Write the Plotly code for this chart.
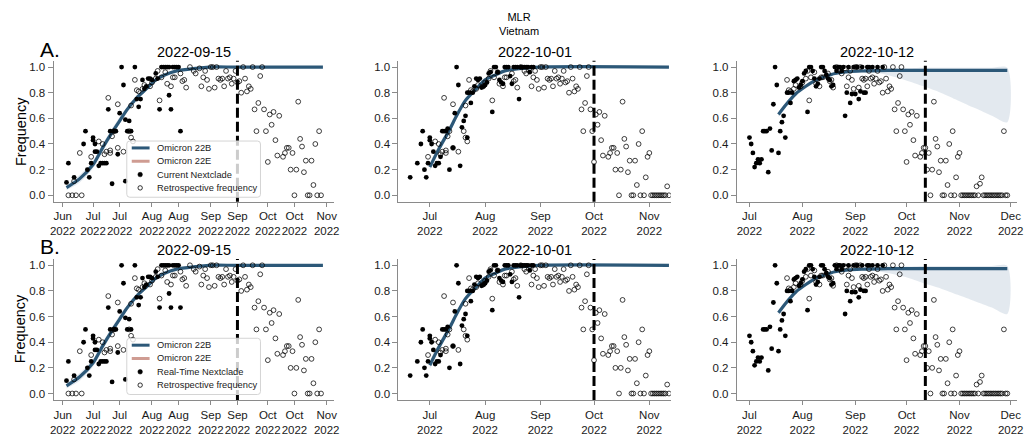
import plotly.graph_objects as go

FONT = "Liberation Sans, Arial, Helvetica, sans-serif"
W, H = 1029, 436
BLUE = "#2C5878"
PINK = "#CF9C92"
BAND = "rgba(60,100,140,0.14)"
AXC = "#8a8a8a"
TXT = "#1a1a1a"

# ---------------- data ----------------
analysis_dates = ["2022-09-15", "2022-10-01", "2022-10-12"]
panel_titles = ["2022-09-15", "2022-10-01", "2022-10-12"]
row_letters = ["A.", "B."]
nextclade_labels = ["Current Nextclade", "Real-Time Nextclade"]
variant_names = ["Omicron 22B", "Omicron 22E"]

# retrospective frequency (same observations, shown over each panel's window)
retro_dates = [
    "2022-06-18", "2022-06-20", "2022-06-21", "2022-06-22", "2022-06-24", "2022-06-25", "2022-06-30",
    "2022-07-04", "2022-07-06", "2022-07-07", "2022-07-08", "2022-07-09", "2022-07-10", "2022-07-10",
    "2022-07-11", "2022-07-12", "2022-07-14", "2022-07-14", "2022-07-17", "2022-07-20", "2022-07-21",
    "2022-07-21", "2022-07-22", "2022-07-23", "2022-07-24", "2022-07-25", "2022-07-27", "2022-07-28",
    "2022-07-31", "2022-08-01", "2022-08-03", "2022-08-04", "2022-08-05", "2022-08-06", "2022-08-08",
    "2022-08-09", "2022-08-11", "2022-08-12", "2022-08-13", "2022-08-16", "2022-08-17", "2022-08-18",
    "2022-08-19", "2022-08-21", "2022-08-23", "2022-08-24", "2022-08-26", "2022-08-27", "2022-08-28",
    "2022-08-29", "2022-08-30", "2022-08-31", "2022-09-01", "2022-09-02", "2022-09-03", "2022-09-04",
    "2022-09-05", "2022-09-06", "2022-09-07", "2022-09-08", "2022-09-09", "2022-09-10", "2022-09-11",
    "2022-09-12", "2022-09-13", "2022-09-14", "2022-09-15", "2022-09-16", "2022-09-17", "2022-09-18",
    "2022-09-19", "2022-09-20", "2022-09-21", "2022-09-22", "2022-09-23", "2022-09-24", "2022-09-25",
    "2022-09-26", "2022-09-27", "2022-09-28", "2022-09-29", "2022-09-30", "2022-10-01", "2022-10-02",
    "2022-10-03", "2022-10-04", "2022-10-05", "2022-10-06", "2022-10-07", "2022-10-09", "2022-10-10",
    "2022-10-11", "2022-10-12", "2022-10-13", "2022-10-14", "2022-10-15", "2022-10-16", "2022-10-17",
    "2022-10-18", "2022-10-19", "2022-10-20", "2022-10-21", "2022-10-22", "2022-10-23", "2022-10-24",
    "2022-10-25", "2022-10-26", "2022-10-27", "2022-10-28", "2022-10-29", "2022-10-30", "2022-10-31",
    "2022-11-01", "2022-11-02", "2022-11-03", "2022-11-04", "2022-11-05", "2022-11-06", "2022-11-07",
    "2022-11-08", "2022-11-09", "2022-11-10", "2022-11-11", "2022-11-12", "2022-11-13", "2022-11-14",
    "2022-11-15", "2022-11-16", "2022-11-17", "2022-11-18", "2022-11-19", "2022-11-20", "2022-11-21",
    "2022-11-22", "2022-11-23", "2022-11-24", "2022-11-25", "2022-11-26", "2022-11-27", "2022-11-28",
    "2022-11-29",
]
retro_vals = [
    0.00, 0.00, 0.11, 0.00, 0.33, 0.00, 0.30,
    0.42, 0.40, 0.32, 0.34, 0.76, 0.33, 0.35,
    0.46, 0.50, 0.71, 0.37, 0.34, 0.50, 0.70,
    0.45, 0.42, 0.90, 0.82, 0.81, 0.83, 0.86,
    0.85, 0.88, 0.91, 0.97, 0.74, 0.92, 0.96,
    0.87, 0.85, 0.92, 0.92, 0.95, 0.89, 0.90,
    0.84, 1.00, 0.97, 0.95, 0.99, 0.85, 0.92,
    0.97, 0.90, 0.83, 1.00, 1.00, 0.84, 1.00,
    0.91, 0.90, 0.91, 0.85, 0.97, 0.91, 0.92,
    0.87, 0.91, 0.97, 0.88, 0.89, 0.80, 1.00,
    0.91, 0.81, 0.85, 0.83, 1.00, 0.67, 0.50,
    0.72, 0.93, 1.00, 0.67, 0.50, 0.26, 0.63,
    0.55, 0.65, 0.43, 0.31, 0.62, 0.30, 0.33,
    0.37, 0.37, 0.20, 0.33, 0.00, 0.20, 0.73,
    0.44, 0.38, 0.18, 0.27, 0.00, 0.00, 0.27,
    0.08, 0.40, 0.00, 0.50, 0.00, 0.14, 0.30,
    0.33, 0.00, 0.00, 0.00, 0.00, 0.00, 0.00,
    0.00, 0.00, 0.00, 0.07, 0.00, 0.09, 0.14,
    0.00, 0.00, 0.00, 0.00, 0.00, 0.00, 0.00,
    0.00, 0.00, 0.00, 0.00, 0.00, 0.50, 0.00,
    0.00,
]
retro_windows = [("2022-06-18", "2022-10-29"), ("2022-06-30", "2022-11-12"), ("2022-07-23", "2022-11-29")]

# Nextclade frequencies available at each analysis date
nc_0915_dates = [
    "2022-06-17", "2022-06-18", "2022-06-21", "2022-06-26", "2022-06-27", "2022-06-28", "2022-06-29",
    "2022-06-30", "2022-07-01", "2022-07-01", "2022-07-02", "2022-07-02", "2022-07-03", "2022-07-04",
    "2022-07-05", "2022-07-06", "2022-07-07", "2022-07-08", "2022-07-09", "2022-07-10", "2022-07-11",
    "2022-07-12", "2022-07-13", "2022-07-14", "2022-07-15", "2022-07-16", "2022-07-17", "2022-07-18",
    "2022-07-18", "2022-07-19", "2022-07-20", "2022-07-21", "2022-07-23", "2022-07-24", "2022-07-25",
    "2022-07-26", "2022-07-27", "2022-07-28", "2022-07-29", "2022-07-30", "2022-07-31", "2022-08-01",
    "2022-08-03", "2022-08-04", "2022-08-05", "2022-08-06", "2022-08-07", "2022-08-08", "2022-08-09",
    "2022-08-10", "2022-08-10", "2022-08-11", "2022-08-12", "2022-08-13", "2022-08-14", "2022-08-15",
    "2022-08-16",
]
nc_0915_vals = [
    0.10, 0.25, 0.14, 0.40, 0.50, 0.20, 0.14,
    0.25, 0.45, 0.43, 0.40, 0.34, 0.34, 0.23,
    0.25, 0.25, 0.25, 0.25, 0.67, 0.50, 0.09,
    0.50, 0.50, 0.32, 0.64, 1.00, 0.86, 0.11,
    0.59, 0.50, 0.58, 0.50, 1.00, 0.75, 0.69,
    0.75, 0.90, 0.83, 0.85, 0.91, 0.91, 0.90,
    0.95, 0.91, 0.67, 1.00, 1.00, 1.00, 1.00,
    0.78, 1.00, 0.67, 1.00, 1.00, 1.00, 1.00,
    0.50,
]
realtime_0915_changes = {"2022-08-16": 0.67}

nc_1001_dates = [
    "2022-06-20", "2022-06-24", "2022-06-26", "2022-06-27", "2022-06-28", "2022-06-29", "2022-06-30",
    "2022-07-01", "2022-07-01", "2022-07-02", "2022-07-03", "2022-07-04", "2022-07-05", "2022-07-06",
    "2022-07-07", "2022-07-08", "2022-07-09", "2022-07-10", "2022-07-11", "2022-07-12", "2022-07-14",
    "2022-07-15", "2022-07-16", "2022-07-17", "2022-07-18", "2022-07-19", "2022-07-20", "2022-07-21",
    "2022-07-22", "2022-07-22", "2022-07-23", "2022-07-24", "2022-07-25", "2022-07-26", "2022-07-27",
    "2022-07-28", "2022-07-29", "2022-07-30", "2022-07-31", "2022-08-01", "2022-08-02", "2022-08-03",
    "2022-08-04", "2022-08-05", "2022-08-06", "2022-08-07", "2022-08-08", "2022-08-09", "2022-08-10",
    "2022-08-11", "2022-08-12", "2022-08-13", "2022-08-14", "2022-08-15", "2022-08-16", "2022-08-17",
    "2022-08-18", "2022-08-19", "2022-08-20", "2022-08-21", "2022-08-22", "2022-08-23", "2022-08-24",
    "2022-08-25", "2022-08-26", "2022-08-27", "2022-08-28",
]
nc_1001_vals = [
    0.14, 0.25, 0.40, 0.50, 0.20, 0.14, 0.25,
    0.45, 0.43, 0.40, 0.34, 0.23, 0.25, 0.25,
    0.30, 0.50, 0.50, 0.50, 0.52, 0.20, 0.37,
    0.64, 1.00, 0.86, 0.23, 0.53, 0.58, 0.62,
    0.45, 0.80, 0.80, 0.72, 0.80, 0.85, 0.91,
    0.90, 0.91, 0.84, 0.85, 0.86, 0.88, 0.95,
    0.96, 0.65, 1.00, 1.00, 0.96, 0.90, 0.88,
    0.87, 1.00, 1.00, 1.00, 0.93, 0.87, 1.00,
    1.00, 1.00, 0.75, 1.00, 1.00, 1.00, 1.00,
    1.00, 0.96, 1.00, 1.00,
]

nc_1012_dates = [
    "2022-07-01", "2022-07-02", "2022-07-03", "2022-07-04", "2022-07-05", "2022-07-06", "2022-07-07",
    "2022-07-08", "2022-07-09", "2022-07-10", "2022-07-11", "2022-07-12", "2022-07-13", "2022-07-14",
    "2022-07-15", "2022-07-16", "2022-07-17", "2022-07-18", "2022-07-19", "2022-07-20", "2022-07-21",
    "2022-07-22", "2022-07-23", "2022-07-24", "2022-07-25", "2022-07-26", "2022-07-27", "2022-07-28",
    "2022-07-29", "2022-07-30", "2022-07-31", "2022-08-01", "2022-08-02", "2022-08-03", "2022-08-04",
    "2022-08-05", "2022-08-06", "2022-08-07", "2022-08-08", "2022-08-09", "2022-08-10", "2022-08-11",
    "2022-08-12", "2022-08-13", "2022-08-14", "2022-08-15", "2022-08-16", "2022-08-17", "2022-08-18",
    "2022-08-19", "2022-08-20", "2022-08-21", "2022-08-22", "2022-08-23", "2022-08-24", "2022-08-25",
    "2022-08-26", "2022-08-27", "2022-08-28", "2022-08-29", "2022-08-30", "2022-08-31", "2022-09-01",
    "2022-09-02", "2022-09-03", "2022-09-04", "2022-09-05", "2022-09-06", "2022-09-07", "2022-09-08",
    "2022-09-09", "2022-09-11", "2022-09-14", "2022-09-17",
]
nc_1012_vals = [
    0.45, 0.40, 0.33, 0.22, 0.25, 0.28, 0.25,
    0.28, 0.50, 0.50, 0.50, 0.18, 0.52, 0.35,
    0.71, 1.00, 0.86, 0.33, 0.50, 0.57, 0.62,
    0.45, 0.80, 0.80, 0.72, 0.80, 0.89, 0.90,
    0.91, 0.84, 0.86, 0.89, 0.95, 0.97, 0.65,
    1.00, 1.00, 0.97, 0.91, 0.85, 0.87, 0.91,
    1.00, 1.00, 0.97, 0.94, 0.91, 0.90, 0.85,
    0.86, 1.00, 0.97, 1.00, 1.00, 0.97, 1.00,
    0.62, 0.80, 1.00, 0.72, 0.79, 1.00, 0.79,
    1.00, 0.75, 0.81, 1.00, 0.80, 0.80, 1.00,
    1.00, 1.00, 1.00, 1.00,
]

# model fits (Omicron 22B) and credible band
fit_0915_dates = ["2022-06-17", "2022-06-24", "2022-07-01", "2022-07-06", "2022-07-11", "2022-07-15",
                  "2022-07-19", "2022-07-24", "2022-07-29", "2022-08-03", "2022-08-08", "2022-08-14",
                  "2022-08-24", "2022-08-31", "2022-09-15", "2022-10-30"]
fit_0915_vals = [0.06, 0.13, 0.24, 0.37, 0.49, 0.58, 0.67, 0.76, 0.83, 0.90, 0.94, 0.97, 0.99, 1.00, 1.00, 1.00]
fit_0915_lo = [0.04, 0.10, 0.21, 0.34, 0.46, 0.56, 0.65, 0.74, 0.82, 0.89, 0.93, 0.965, 0.985, 0.995, 0.998, 0.998]
fit_0915_hi = [0.08, 0.16, 0.27, 0.40, 0.52, 0.61, 0.69, 0.78, 0.85, 0.91, 0.95, 0.975, 0.993, 1.00, 1.00, 1.00]

fit_1001_dates = ["2022-07-01", "2022-07-06", "2022-07-12", "2022-07-16", "2022-07-21", "2022-07-27",
                  "2022-08-01", "2022-08-07", "2022-08-12", "2022-08-22", "2022-08-31", "2022-11-12"]
fit_1001_vals = [0.22, 0.36, 0.51, 0.62, 0.74, 0.83, 0.90, 0.94, 0.97, 0.99, 1.00, 1.00]
fit_1001_lo = [0.19, 0.33, 0.48, 0.60, 0.72, 0.82, 0.89, 0.93, 0.965, 0.985, 0.995, 0.998]
fit_1001_hi = [0.25, 0.39, 0.54, 0.64, 0.76, 0.84, 0.91, 0.95, 0.975, 0.993, 1.00, 1.00]

fit_1012_dates = ["2022-07-18", "2022-07-22", "2022-07-28", "2022-08-03", "2022-08-09", "2022-08-15",
                  "2022-08-20", "2022-08-28", "2022-09-07", "2022-09-20", "2022-10-12", "2022-11-29"]
fit_1012_vals = [0.63, 0.70, 0.79, 0.85, 0.90, 0.93, 0.95, 0.965, 0.97, 0.974, 0.974, 0.974]
band_1012_dates = ["2022-07-18", "2022-07-22", "2022-07-28", "2022-08-03", "2022-08-09", "2022-08-15",
                   "2022-08-20", "2022-08-28", "2022-09-07", "2022-09-16", "2022-09-30", "2022-10-11",
                   "2022-10-21", "2022-10-31", "2022-11-10", "2022-11-20", "2022-11-29"]
band_1012_hi = [0.65, 0.72, 0.80, 0.86, 0.91, 0.94, 0.96, 0.975, 0.985, 0.99, 0.99, 0.995,
                0.995, 0.995, 0.995, 0.995, 0.995]
band_1012_lo_A = [0.61, 0.68, 0.78, 0.84, 0.89, 0.92, 0.94, 0.955, 0.96, 0.95, 0.90, 0.85,
                  0.80, 0.74, 0.68, 0.62, 0.57]
band_1012_lo_B = [0.61, 0.68, 0.78, 0.84, 0.89, 0.92, 0.94, 0.955, 0.96, 0.95, 0.91, 0.86,
                  0.82, 0.77, 0.72, 0.67, 0.62]

x_ranges = [("2022-06-10 04:00", "2022-11-04 17:00"),
            ("2022-06-13 10:00", "2022-11-13 00:00"),
            ("2022-06-23 14:00", "2022-12-04 17:00")]
tick_dates = [
    ["2022-06-15", "2022-07-01", "2022-07-15", "2022-08-01", "2022-08-15", "2022-09-01",
     "2022-09-15", "2022-10-01", "2022-10-15", "2022-11-01"],
    ["2022-07-01", "2022-08-01", "2022-09-01", "2022-10-01", "2022-11-01"],
    ["2022-07-01", "2022-08-01", "2022-09-01", "2022-10-01", "2022-11-01", "2022-12-01"],
]
tick_labels = [
    ["Jun<br>2022", "Jul<br>2022", "Jul<br>2022", "Aug<br>2022", "Aug<br>2022", "Sep<br>2022",
     "Sep<br>2022", "Oct<br>2022", "Oct<br>2022", "Nov<br>2022"],
    ["Jul<br>2022", "Aug<br>2022", "Sep<br>2022", "Oct<br>2022", "Nov<br>2022"],
    ["Jul<br>2022", "Aug<br>2022", "Sep<br>2022", "Oct<br>2022", "Nov<br>2022", "Dec<br>2022"],
]
y_ticks = [0.0, 0.2, 0.4, 0.6, 0.8, 1.0]
y_labels = ["0.0", "0.2", "0.4", "0.6", "0.8", "1.0"]

# ---------------- layout geometry (pixels) ----------------
panel_px = [(50, 333), (398.3, 673.3), (740, 1023)]
row_px = [(61.5, 204.5), (262.5, 405.5)]   # top, bottom of plot area
row_shift = [0, 200]

fig = go.Figure()
layout_axes = {}
shapes = []
annotations = []

nc_sets = [(nc_0915_dates, nc_0915_vals), (nc_1001_dates, nc_1001_vals), (nc_1012_dates, nc_1012_vals)]
fits = [(fit_0915_dates, fit_0915_vals), (fit_1001_dates, fit_1001_vals), (fit_1012_dates, fit_1012_vals)]


def px(v):
    return v / W


def py(v):
    return 1 - v / H


for r in range(2):
    for p in range(3):
        k = r * 3 + p + 1
        sfx = "" if k == 1 else str(k)
        xa, ya = "x" + sfx, "y" + sfx

        # band
        if p < 2:
            bd = [fit_0915_dates, fit_1001_dates][p]
            lo = [fit_0915_lo, fit_1001_lo][p]
            hi = [fit_0915_hi, fit_1001_hi][p]
        else:
            bd = band_1012_dates
            lo = band_1012_lo_A if r == 0 else band_1012_lo_B
            hi = band_1012_hi
        fig.add_trace(go.Scatter(x=bd + bd[::-1], y=hi + lo[::-1], fill="toself", mode="lines",
                                 line=dict(width=0, shape="spline", smoothing=0.8),
                                 fillcolor=BAND, hoverinfo="skip", showlegend=False,
                                 xaxis=xa, yaxis=ya))
        fd, fv = fits[p]
        fig.add_trace(go.Scatter(x=fd, y=fv, mode="lines", name=variant_names[0],
                                 line=dict(color=BLUE, width=3.2, shape="spline", smoothing=0.8),
                                 showlegend=False, xaxis=xa, yaxis=ya))

        nd, nv = nc_sets[p]
        if r == 1 and p == 0:
            nv = [realtime_0915_changes.get(d, v) for d, v in zip(nd, nv)]
        fig.add_trace(go.Scatter(x=nd, y=nv, mode="markers", name=nextclade_labels[r],
                                 marker=dict(color="black", size=4.8, line=dict(width=0)),
                                 showlegend=False, xaxis=xa, yaxis=ya))
        w0, w1 = retro_windows[p]
        rd = [d for d in retro_dates if w0 <= d <= w1]
        rv = [v for d, v in zip(retro_dates, retro_vals) if w0 <= d <= w1]
        fig.add_trace(go.Scatter(x=rd, y=rv, mode="markers", name="Retrospective frequency",
                                 marker=dict(symbol="circle-open", color="black", size=4.8,
                                             line=dict(width=0.75)),
                                 showlegend=False, xaxis=xa, yaxis=ya))

        x0p, x1p = panel_px[p]
        t, b = row_px[r]
        layout_axes["xaxis" + sfx] = dict(
            domain=[x0p / W, x1p / W], anchor=ya, type="date", range=list(x_ranges[p]),
            tickmode="array", tickvals=tick_dates[p], ticktext=tick_labels[p],
            showline=True, linecolor=AXC, linewidth=1, ticks="outside", ticklen=4, tickcolor=AXC,
            showgrid=False, zeroline=False, tickangle=0,
            tickfont=dict(family=FONT, size=11.5, color=TXT))
        layout_axes["yaxis" + sfx] = dict(
            domain=[1 - b / H, 1 - t / H], anchor=xa, range=[-0.05, 1.05],
            tickmode="array", tickvals=y_ticks, ticktext=y_labels,
            showline=True, linecolor=AXC, linewidth=1, ticks="outside", ticklen=5, tickcolor=AXC,
            showgrid=False, zeroline=False,
            tickfont=dict(family=FONT, size=11.5, color=TXT))

        # analysis date marker
        shapes.append(dict(type="line", xref=xa, yref=ya + " domain", x0=analysis_dates[p],
                           x1=analysis_dates[p], y0=0, y1=1, layer="above",
                           line=dict(color="black", width=3, dash="10px,4px")))
        # panel title
        annotations.append(dict(text=panel_titles[p], xref="paper", yref="paper",
                                x=(x0p + x1p) / 2 / W, y=py(53 + row_shift[r]),
                                xanchor="center", yanchor="middle", showarrow=False,
                                font=dict(family=FONT, size=14.5, color="black")))

    # row letter and y label
    annotations.append(dict(text=row_letters[r], xref="paper", yref="paper", x=px(34),
                            y=py(50 + row_shift[r]), xanchor="left", yanchor="middle",
                            showarrow=False, font=dict(family=FONT, size=21, color="black")))
    annotations.append(dict(text="Frequency", xref="paper", yref="paper", x=px(17),
                            y=py(133 + row_shift[r]), xanchor="center", yanchor="middle",
                            textangle=-90, showarrow=False,
                            font=dict(family=FONT, size=14.5, color="black")))

    # legend (drawn inside the first panel of the row)
    s = row_shift[r]
    lx0, lx1, ly0, ly1 = 124, 259, 143 + s, 200 + s
    rr = 3
    path = (f"M {px(lx0 + rr)},{py(ly0)} L {px(lx1 - rr)},{py(ly0)} Q {px(lx1)},{py(ly0)} {px(lx1)},{py(ly0 + rr)} "
            f"L {px(lx1)},{py(ly1 - rr)} Q {px(lx1)},{py(ly1)} {px(lx1 - rr)},{py(ly1)} "
            f"L {px(lx0 + rr)},{py(ly1)} Q {px(lx0)},{py(ly1)} {px(lx0)},{py(ly1 - rr)} "
            f"L {px(lx0)},{py(ly0 + rr)} Q {px(lx0)},{py(ly0)} {px(lx0 + rr)},{py(ly0)} Z")
    shapes.append(dict(type="path", xref="paper", yref="paper", path=path, layer="above",
                       fillcolor="rgba(255,255,255,0.8)", line=dict(color="#d4d4d4", width=1)))
    rows_y = [150 + s, 163.5 + s, 177 + s, 190.5 + s]
    shapes.append(dict(type="line", xref="paper", yref="paper", x0=px(129), x1=px(147),
                       y0=py(rows_y[0]), y1=py(rows_y[0]), layer="above",
                       line=dict(color=BLUE, width=3)))
    shapes.append(dict(type="line", xref="paper", yref="paper", x0=px(129), x1=px(147),
                       y0=py(rows_y[1]), y1=py(rows_y[1]), layer="above",
                       line=dict(color=PINK, width=3)))
    shapes.append(dict(type="circle", xref="paper", yref="paper", xsizemode="pixel",
                       ysizemode="pixel", xanchor=px(137.5), yanchor=py(rows_y[2]),
                       x0=-2.3, x1=2.3, y0=-2.3, y1=2.3, layer="above",
                       fillcolor="black", line=dict(color="black", width=0.5)))
    shapes.append(dict(type="circle", xref="paper", yref="paper", xsizemode="pixel",
                       ysizemode="pixel", xanchor=px(137.5), yanchor=py(rows_y[3]),
                       x0=-2.2, x1=2.2, y0=-2.2, y1=2.2, layer="above",
                       fillcolor="rgba(0,0,0,0)", line=dict(color="black", width=0.8)))
    for txt, yy in zip([variant_names[0], variant_names[1], nextclade_labels[r], "Retrospective frequency"], rows_y):
        annotations.append(dict(text=txt, xref="paper", yref="paper", x=px(152), y=py(yy),
                                xanchor="left", yanchor="middle", showarrow=False,
                                font=dict(family=FONT, size=9.3, color=TXT)))

# figure title
annotations.append(dict(text="MLR<br>Vietnam", xref="paper", yref="paper", x=px(520), y=py(24),
                        xanchor="center", yanchor="middle", showarrow=False,
                        font=dict(family=FONT, size=11, color="black")))

fig.update_layout(
    width=W, height=H, autosize=False,
    margin=dict(l=0, r=0, t=0, b=0),
    paper_bgcolor="white", plot_bgcolor="white",
    showlegend=False,
    shapes=shapes, annotations=annotations,
    font=dict(family=FONT, color=TXT),
    **layout_axes,
)

fig.write_html("out.html", config={"displayModeBar": False},
               post_script="document.body.style.margin='0';")
